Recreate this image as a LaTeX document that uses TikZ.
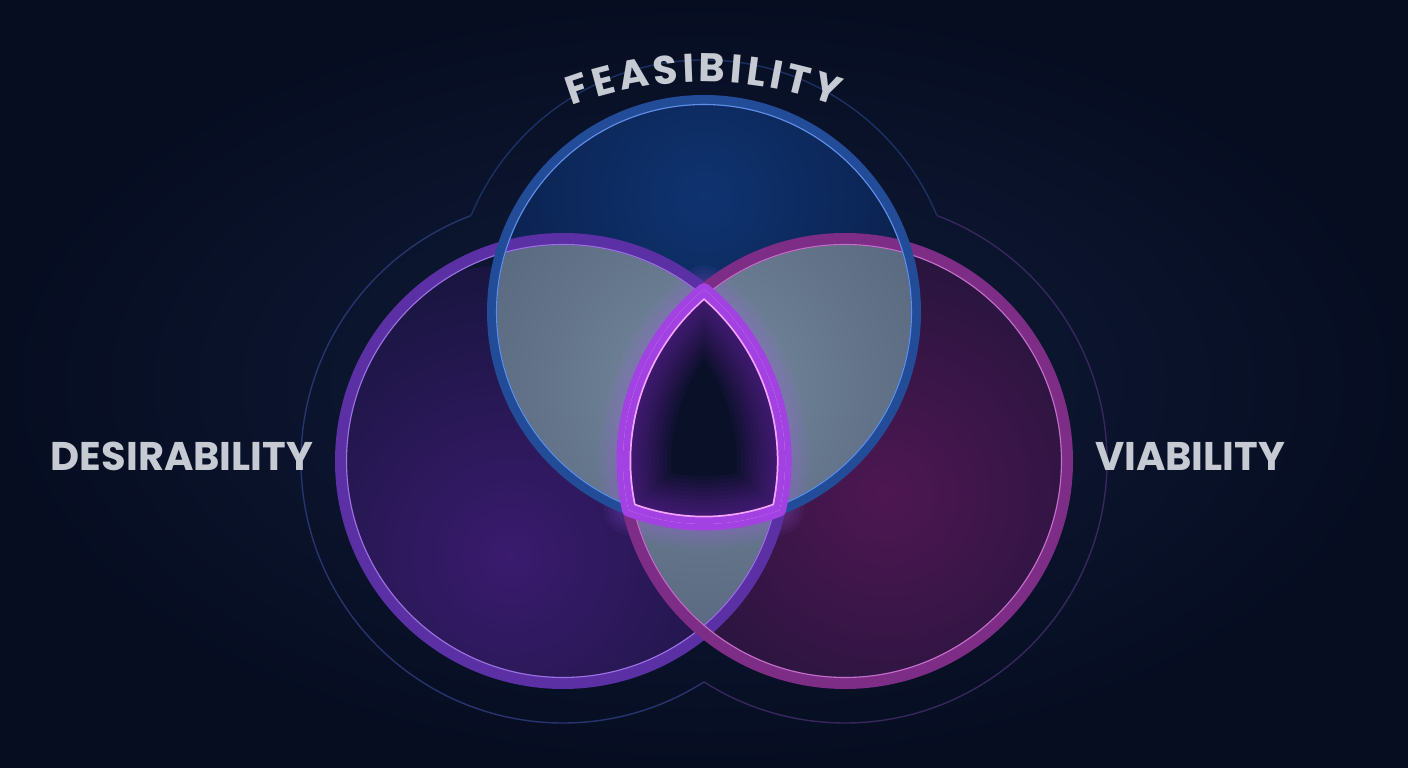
\documentclass[tikz,border=0pt]{standalone}
\usepackage{fontspec}
\newfontfamily\labfont{Poppins}
\usetikzlibrary{decorations.text,calc}
\definecolor{bgin}{HTML}{111D3B}
\definecolor{bgout}{HTML}{060D21}
\definecolor{purpin}{HTML}{3A1B6E}
\definecolor{purpout}{HTML}{191540}
\definecolor{magin}{HTML}{4E1752}
\definecolor{magout}{HTML}{20143A}
\definecolor{bluein}{HTML}{0F3370}
\definecolor{blueout}{HTML}{0A1C44}
\definecolor{greyin}{HTML}{76899C}
\definecolor{greyout}{HTML}{56667E}
\definecolor{tripc}{HTML}{0A1028}
\definecolor{glowc}{HTML}{8A2AD0}
\definecolor{hazec}{HTML}{B060FF}
\definecolor{bandc}{HTML}{A342E2}
\definecolor{brightc}{HTML}{F2A6FF}
\definecolor{ringLc}{HTML}{5B30A4}
\definecolor{ringLhi}{HTML}{9A72E0}
\definecolor{ringRc}{HTML}{7E2D86}
\definecolor{ringRhi}{HTML}{C070C8}
\definecolor{ringBc}{HTML}{224C98}
\definecolor{ringBhi}{HTML}{5F8FE6}
\definecolor{outL}{HTML}{28346E}
\definecolor{outB}{HTML}{1D3062}
\definecolor{outR}{HTML}{38275C}
\definecolor{labc}{HTML}{C6CAD3}
\tikzset{
  lab/.style={text=labc, font=\labfont\bfseries\fontsize{40}{40}\selectfont},
  outline/.style={line width=1.4pt},
}
\def\triple{(704,478.5) arc[start angle=129.43, end angle=192.78, radius=222]
  arc[start angle=249.13, end angle=290.87, radius=212]
  arc[start angle=-12.78, end angle=50.57, radius=222] -- cycle}
% clockwise frame, used with a counter-clockwise circle to clip to the outside of it
\def\frame{(-10,-10) -- (-10,778) -- (1418,778) -- (1418,-10) -- cycle}
\begin{document}
\begin{tikzpicture}[x=1pt,y=1pt]
\useasboundingbox (0,0) rectangle (1408,768);
\coordinate (L) at (563,307);
\coordinate (R) at (845,307);
\coordinate (B) at (704,456);
\coordinate (A) at (704,309);
% background
\shade[inner color=bgin, outer color=bgout] (0,0) rectangle (1408,768);
% outer outline (union of enlarged circles)
\begin{scope}
  \clip \frame ($(R)+(262,0)$) arc[start angle=0, end angle=360, radius=262];
  \clip \frame ($(B)+(252,0)$) arc[start angle=0, end angle=360, radius=252];
  \draw[outline, outL] (L) circle (262);
\end{scope}
\begin{scope}
  \clip \frame ($(L)+(262,0)$) arc[start angle=0, end angle=360, radius=262];
  \clip \frame ($(B)+(252,0)$) arc[start angle=0, end angle=360, radius=252];
  \draw[outline, outR] (R) circle (262);
\end{scope}
\begin{scope}
  \clip \frame ($(L)+(262,0)$) arc[start angle=0, end angle=360, radius=262];
  \clip \frame ($(R)+(262,0)$) arc[start angle=0, end angle=360, radius=262];
  \draw[outline, outB] (B) circle (252);
\end{scope}
% circle fills
\begin{scope}
  \clip (L) circle (222);
  \shade[inner color=purpin, outer color=purpout] (510,212) circle (290);
\end{scope}
\begin{scope}
  \clip (R) circle (222);
  \shade[inner color=magin, outer color=magout] (885,275) circle (290);
\end{scope}
\begin{scope}
  \clip (B) circle (212);
  \shade[inner color=bluein, outer color=blueout] (704,570) circle (280);
\end{scope}
% pairwise overlaps
\begin{scope}
  \clip (B) circle (212); \clip (L) circle (222);
  \shade[inner color=greyin, outer color=greyout] (704,380) circle (270);
\end{scope}
\begin{scope}
  \clip (B) circle (212); \clip (R) circle (222);
  \shade[inner color=greyin, outer color=greyout] (704,380) circle (270);
\end{scope}
\begin{scope}
  \clip (L) circle (222); \clip (R) circle (222);
  \shade[inner color=greyin, outer color=greyout] (704,380) circle (270);
\end{scope}
% haze around centre
\foreach \w in {48,40,32,24} {
  \draw[hazec, opacity=0.06, line width=\w pt, line join=round] \triple;
}
% centre region
\fill[tripc] \triple;
\begin{scope}
  \clip \triple;
  \foreach \w in {96,88,...,24} {
    \draw[glowc, opacity=0.055, line width=\w pt, line join=round] \triple;
  }
\end{scope}
% rings
\draw[ringLc, line width=12pt] (L) circle (222);
\draw[ringLhi, line width=1.1pt] (L) circle (216.5);
\draw[ringRc, line width=12pt] (R) circle (222);
\draw[ringRhi, line width=1.1pt] (R) circle (216.5);
\draw[ringBc, line width=10pt] (B) circle (212);
\draw[ringBhi, line width=1.1pt] (B) circle (207.5);
% glowing band of the centre
\draw[bandc, line width=13pt, line join=round] \triple;
\begin{scope}
  \clip \triple;
  \draw[brightc, line width=16.5pt, line join=round] \triple;
  \draw[bandc, line width=13pt, line join=round] \triple;
\end{scope}
% labels
\node[lab] (des) at (182,312) {DESIRABILITY};
\node[lab] (via) at (1190,312) {VIABILITY};
\path[decorate, decoration={text along path, text align={fit to path},
   text={|\color{labc}\labfont\bfseries\fontsize{40}{40}\selectfont|FEASIBILITY}}]
   ($(A)+(110.5:377)$) arc[start angle=110.5, end angle=69.5, radius=377];
\end{tikzpicture}
\end{document}
